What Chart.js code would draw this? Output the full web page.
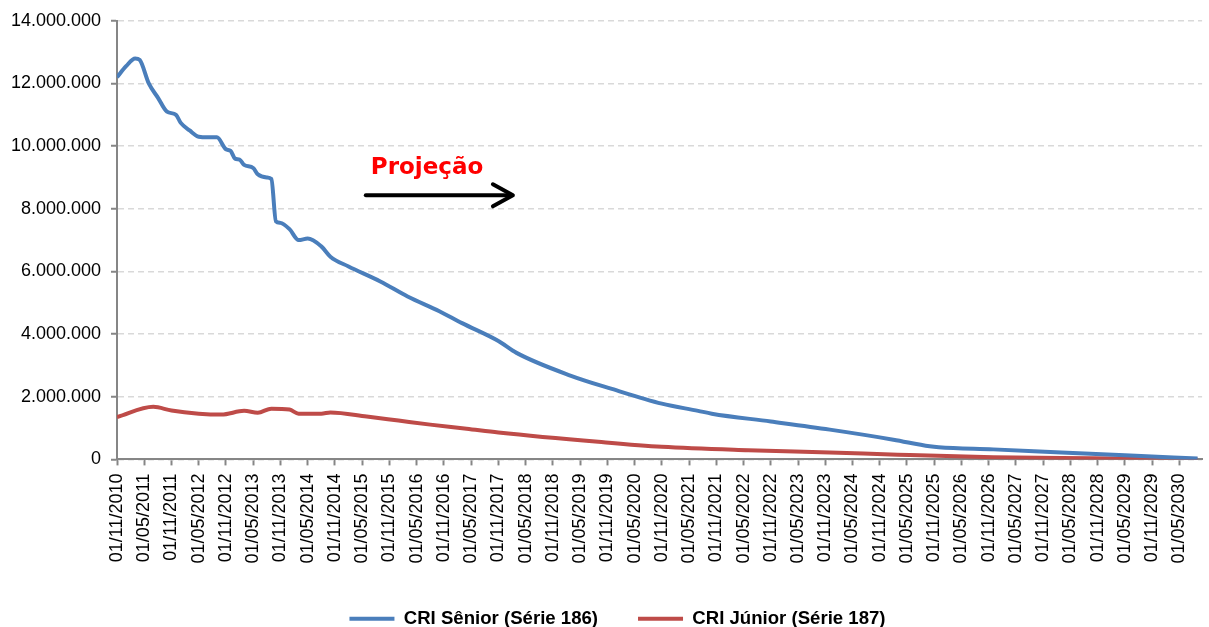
<!DOCTYPE html>
<html>
<head>
<meta charset="utf-8">
<script src="https://cdn.jsdelivr.net/npm/chart.js@4"></script>
<style>
  body { margin: 0; background: #fff; }
  #wrap { width: 1209px; height: 627px; }
</style>
</head>
<body>
<div id="wrap"><canvas id="chart"></canvas></div>
<script>
    // Rótulos do eixo X (a cada 6 meses)
    const xTickLabels = [
        '01/11/2010', '01/05/2011', '01/11/2011', '01/05/2012', '01/11/2012', '01/05/2013',
        '01/11/2013', '01/05/2014', '01/11/2014', '01/05/2015', '01/11/2015', '01/05/2016',
        '01/11/2016', '01/05/2017', '01/11/2017', '01/05/2018', '01/11/2018', '01/05/2019',
        '01/11/2019', '01/05/2020', '01/11/2020', '01/05/2021', '01/11/2021', '01/05/2022',
        '01/11/2022', '01/05/2023', '01/11/2023', '01/05/2024', '01/11/2024', '01/05/2025',
        '01/11/2025', '01/05/2026', '01/11/2026', '01/05/2027', '01/11/2027', '01/05/2028',
        '01/11/2028', '01/05/2029', '01/11/2029', '01/05/2030'
    ];

    // CRI Sênior: meses desde 11/2010 e saldo
    const seniorMonths = [0, 2, 4, 5, 7, 9, 11, 13, 14, 16, 18, 20, 22, 24, 25, 26, 27, 28, 30, 31,
        33, 34, 35, 36, 38, 40, 42, 45, 47, 51, 58, 64, 71, 76, 84, 88, 100, 109, 120, 128,
        131, 144, 157, 171, 179, 181, 193, 208, 222, 238];
    const seniorValues = [12200000, 12550000, 12800000, 12750000, 12000000, 11550000, 11100000, 11000000, 10750000, 10500000,
        10300000, 10280000, 10280000, 9900000, 9850000, 9600000, 9570000, 9400000, 9300000, 9100000,
        9000000, 8950000, 7600000, 7550000, 7350000, 7000000, 7050000, 6800000, 6470000, 6160000,
        5680000, 5200000, 4730000, 4350000, 3780000, 3400000, 2670000, 2250000, 1780000, 1550000,
        1460000, 1210000, 950000, 630000, 420000, 390000, 320000, 220000, 130000, 30000];

    // CRI Júnior
    const juniorMonths = [0, 8, 12, 18, 23, 28, 31, 34, 38, 40, 45, 47, 55, 62, 69, 77, 84,
        106, 120, 139, 157, 172, 193, 215, 238];
    const juniorValues = [1350000, 1680000, 1560000, 1460000, 1430000, 1550000, 1490000, 1620000, 1590000, 1460000,
        1460000, 1500000, 1370000, 1240000, 1110000, 980000, 860000,
        560000, 400000, 290000, 220000, 150000, 70000, 35000, 0];

    const seriesNames = ['CRI Sênior (Série 186)', 'CRI Júnior (Série 187)'];

    function toPoints(months, values) {
        return months.map((m, i) => ({ x: m, y: values[i] }));
    }

    function formatThousands(v) {
        return v.toString().replace(/\B(?=(\d{3})+(?!\d))/g, '.');
    }

    // Texto "Projeção" e seta
    const projecaoPlugin = {
        id: 'projecao',
        afterLayout(chart) {
            // legenda um pouco deslocada para a direita, como no original
            chart.legend.left += 13;
            chart.legend.right += 13;
        },
        afterDatasetsDraw(chart) {
            const ctx = chart.ctx;
            const xs = chart.scales.x, ys = chart.scales.y;
            ctx.save();
            ctx.fillStyle = '#ff0000';
            ctx.font = 'bold 23px "DejaVu Sans"';
            ctx.textBaseline = 'alphabetic';
            ctx.textAlign = 'left';
            ctx.fillText('Projeção', xs.getPixelForValue(55.9), ys.getPixelForValue(9110000));

            const x1 = xs.getPixelForValue(54.8);
            const x2 = xs.getPixelForValue(87.2);
            const y = ys.getPixelForValue(8430000);
            ctx.strokeStyle = '#000';
            ctx.lineWidth = 4;
            ctx.lineCap = 'round';
            ctx.lineJoin = 'round';
            ctx.beginPath();
            ctx.moveTo(x1, y);
            ctx.lineTo(x2 - 2, y);
            ctx.stroke();
            ctx.beginPath();
            ctx.moveTo(x2 - 20, y - 11);
            ctx.lineTo(x2, y);
            ctx.lineTo(x2 - 20, y + 11);
            ctx.stroke();
            ctx.restore();
        }
    };

    new Chart(document.getElementById('chart'), {
        type: 'line',
        data: {
            datasets: [{
                label: seriesNames[0],
                data: toPoints(seniorMonths, seniorValues),
                borderColor: '#4a7ebb',
                backgroundColor: '#4a7ebb',
                borderWidth: 4,
                pointRadius: 0,
                cubicInterpolationMode: 'monotone'
            }, {
                label: seriesNames[1],
                data: toPoints(juniorMonths, juniorValues),
                borderColor: '#be4b48',
                backgroundColor: '#be4b48',
                borderWidth: 4,
                pointRadius: 0,
                cubicInterpolationMode: 'monotone'
            }]
        },
        options: {
            responsive: true,
            maintainAspectRatio: false,
            animation: false,
            layout: {
                padding: { top: 11, right: 0, left: 0, bottom: -11 }
            },
            plugins: {
                legend: {
                    position: 'bottom',
                    labels: {
                        color: '#000',
                        font: { family: '"Liberation Sans", Arial', size: 18.6, weight: 'bold' },
                        boxWidth: 45,
                        boxHeight: 4,
                        padding: 40,
                        generateLabels(chart) {
                            const items = Chart.defaults.plugins.legend.labels.generateLabels(chart);
                            items.forEach(it => { it.lineWidth = 0; });
                            return items;
                        }
                    }
                },
                tooltip: { enabled: false }
            },
            scales: {
                x: {
                    type: 'linear',
                    min: 0,
                    max: 239,
                    afterBuildTicks(scale) {
                        scale.ticks = xTickLabels.map((l, i) => ({ value: i * 6 }));
                    },
                    afterFit(scale) {
                        scale.height = 110;
                    },
                    ticks: {
                        autoSkip: false,
                        minRotation: 90,
                        maxRotation: 90,
                        padding: 8,
                        color: '#000',
                        font: { family: '"Liberation Sans", Arial', size: 18 },
                        callback(value) {
                            return xTickLabels[Math.round(value / 6)];
                        }
                    },
                    grid: {
                        drawOnChartArea: false,
                        drawTicks: true,
                        tickLength: 6,
                        tickColor: '#868686',
                        tickWidth: 2
                    },
                    border: { color: '#868686', width: 2 }
                },
                y: {
                    min: 0,
                    max: 14000000,
                    afterFit(scale) {
                        scale.width = 117;
                    },
                    ticks: {
                        stepSize: 2000000,
                        padding: 10,
                        color: '#000',
                        font: { family: '"Liberation Sans", Arial', size: 18 },
                        callback(value) {
                            return formatThousands(value);
                        }
                    },
                    grid: {
                        color: '#d9d9d9',
                        lineWidth: 1.5,
                        tickLength: 6,
                        tickColor: '#868686',
                        tickWidth: 2,
                        tickBorderDash: []
                    },
                    border: { color: '#868686', width: 2, dash: [6, 4] }
                }
            }
        },
        plugins: [projecaoPlugin]
    });
</script>
</body>
</html>
